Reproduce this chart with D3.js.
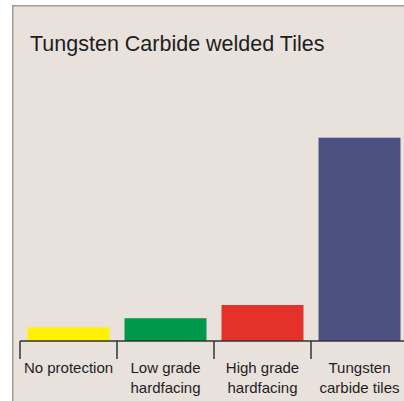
<!doctype html>
<html>
  <head>
    <title>Tungsten Carbide welded Tiles</title>
    <style>
      body { margin: 0; background: #fff; }
      svg { display: block; }
      text { font-family: "Liberation Sans", Arial, Helvetica, sans-serif; fill: #1e1e1e; }
      .axis line, .axis path { stroke: #333; }
    </style>
    <script src="https://cdn.jsdelivr.net/npm/d3@7/dist/d3.min.js"></script>
  </head>
  <body>
  <script>
    // data (relative units, tungsten carbide = 100)
    const categories = ["No protection", "Low grade hardfacing", "High grade hardfacing", "Tungsten carbide tiles"];
    const labelLines = [["No protection"], ["Low grade", "hardfacing"], ["High grade", "hardfacing"], ["Tungsten", "carbide tiles"]];
    const values = [6.7, 11.2, 17.7, 100];
    const colors = ["#fff100", "#00984a", "#e4322b", "#4c5181"];
    const title = "Tungsten Carbide welded Tiles";

    var width = 404, height = 401;

    var svg = d3.select("body").append("svg")
        .attr("width", width)
        .attr("height", height);

    // beige panel with a grey edge on the left and top
    svg.append("rect")
      .attr("x", 13).attr("y", 5.5)
      .attr("width", width).attr("height", height)
      .attr("fill", "#e8e1dc");
    svg.append("path")
      .attr("d", "M12.75," + height + "V5.75H" + width)
      .attr("fill", "none")
      .attr("stroke", "#a39b94")
      .attr("stroke-width", 1.5);

    svg.append("text")
      .attr("x", 30).attr("y", 51)
      .style("font-size", "21.5px")
      .text(title);

    var x = d3.scaleBand()
        .domain(categories)
        .range([20, 408])
        .paddingInner(0.155)
        .paddingOuter(0.0775);

    var y = d3.scaleLinear()
        .domain([0, 100])
        .range([341, 137.7]);

    svg.selectAll(".bar")
      .data(values)
      .enter().append("rect")
        .attr("class", "bar")
        .attr("x", function(d, i) { return x(categories[i]); })
        .attr("y", function(d) { return y(d); })
        .attr("width", x.bandwidth())
        .attr("height", function(d) { return y(0) - y(d); })
        .attr("fill", function(d, i) { return colors[i]; });

    // baseline with ticks between the categories
    var axis = svg.append("g").attr("class", "axis");
    axis.append("line")
      .attr("x1", 20).attr("x2", width)
      .attr("y1", 341).attr("y2", 341)
      .attr("stroke-width", 1.5);
    axis.selectAll(".tick")
      .data(categories)
      .enter().append("line")
        .attr("class", "tick")
        .attr("x1", function(d) { return x(d) - x.step() * x.paddingInner() / 2; })
        .attr("x2", function(d) { return x(d) - x.step() * x.paddingInner() / 2; })
        .attr("y1", 341).attr("y2", 359)
        .attr("stroke-width", 1.5);

    var lbl = svg.selectAll(".label")
      .data(categories)
      .enter().append("text")
        .attr("class", "label")
        .attr("text-anchor", "middle")
        .style("font-size", "15px")
        .attr("transform", function(d) {
          return "translate(" + (x(d) + x.bandwidth() / 2) + ",373)"; });

    lbl.selectAll("tspan")
      .data(function(d, i) { return labelLines[i]; })
      .enter().append("tspan")
        .attr("x", 0)
        .attr("dy", function(d, i) { return i ? 20 : 0; })
        .text(function(d) { return d; });
  </script>
  </body>
</html>
